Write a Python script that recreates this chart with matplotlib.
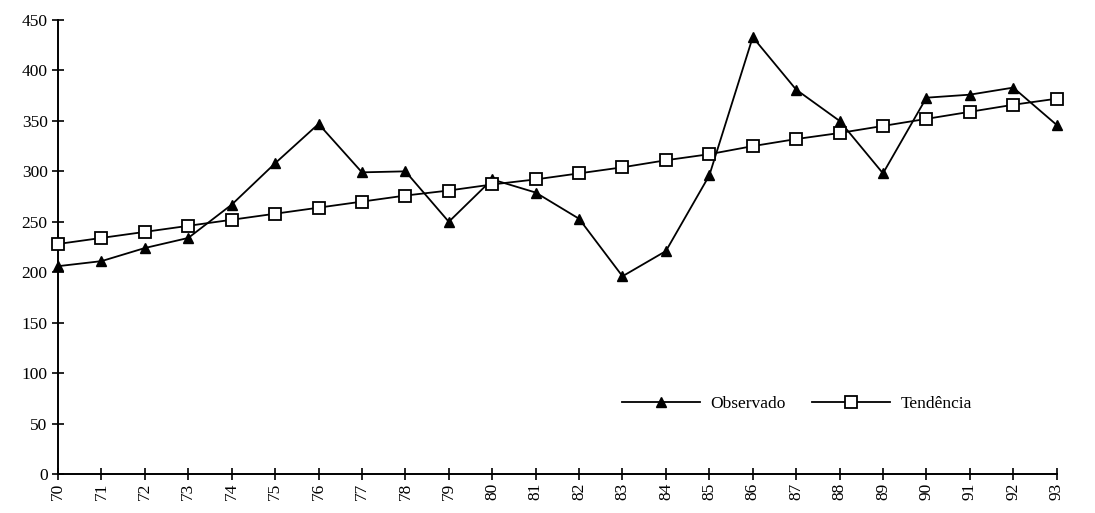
import matplotlib
matplotlib.use("Agg")
import matplotlib.pyplot as plt

# Annual series, 1970-1993 (two-digit year labels)
anos = list(range(70, 94))
rotulos = [str(a) for a in anos]

observado = [206, 211, 224, 234, 267, 308, 347, 299, 300, 250, 292, 279,
             253, 196, 221, 296, 433, 381, 350, 298, 373, 376, 383, 346]
tendencia = [228, 234, 240, 246, 252, 258, 264, 270, 276, 281, 287, 292,
             298, 304, 311, 317, 325, 332, 338, 345, 352, 359, 366, 372]

plt.rcParams['font.family'] = ['Liberation Serif', 'DejaVu Serif']

fig = plt.figure(figsize=(10.95, 5.13), dpi=100)
ax = fig.add_axes([0.053, 0.076, 0.912, 0.885])

ax.plot(anos, observado, color='black', linewidth=1.3, marker='^',
        markersize=7, markerfacecolor='black', markeredgecolor='black',
        label='Observado', clip_on=False, zorder=3)
ax.plot(anos, tendencia, color='black', linewidth=1.3, marker='s',
        markersize=9, markerfacecolor='white', markeredgecolor='black',
        markeredgewidth=1.3, label='Tendência', clip_on=False, zorder=4)

ax.set_xlim(anos[0], anos[-1])
ax.set_ylim(0, 450)
ax.set_xticks(anos)
ax.set_xticklabels(rotulos, rotation=90)
ax.set_yticks(range(0, 451, 50))

for lado in ('top', 'right'):
    ax.spines[lado].set_visible(False)
for lado in ('left', 'bottom'):
    ax.spines[lado].set_linewidth(1.4)

ax.tick_params(axis='both', direction='inout', length=9, width=1.2,
               labelsize=12.5, colors='black')
ax.tick_params(axis='y', pad=3)
ax.tick_params(axis='x', pad=2)

ax.legend(loc='center', bbox_to_anchor=(0.74, 0.155), ncol=2, frameon=False,
          fontsize=12.5, handlelength=4.5, columnspacing=1.5, handletextpad=0.6)

fig.savefig('out.png', dpi=100, facecolor='white')
